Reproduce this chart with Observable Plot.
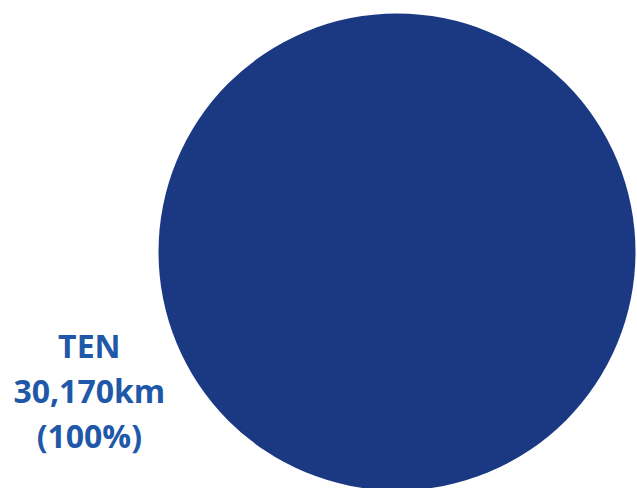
<!DOCTYPE html>
<html>
<head>
<meta charset="utf-8">
<script src="https://cdn.jsdelivr.net/npm/d3@7"></script>
<script src="https://cdn.jsdelivr.net/npm/@observablehq/plot@0.6"></script>
<style>
  html, body { margin: 0; padding: 0; background: #fff; overflow: hidden; }
</style>
</head>
<body>
<div id="chart"></div>
<script>
// Data
const categories = ["TEN"];
const values = [30170];
const units = "km";
const sliceColors = ["#1b3882"];

const total = d3.sum(values);
const slices = categories.map((c, i) => ({
  category: c,
  value: values[i],
  share: values[i] / total,
  label: `${c}\n${d3.format(",")(values[i])}${units}\n(${Math.round(values[i] / total * 100)}%)`
}));

const chart = Plot.plot({
  width: 637,
  height: 488,
  margin: 0,
  x: {domain: [-1, 1], range: [158, 635], axis: null},
  y: {domain: [-1, 1], range: [490, 13], axis: null},
  r: {type: "linear", domain: [0, total], range: [0, 238.5]},
  color: {domain: categories, range: sliceColors},
  marks: [
    Plot.dot(slices, {x: () => 0, y: () => 0, r: "value", fill: "category", stroke: null}),
    Plot.text(slices, {
      x: () => -1.29,
      y: () => -0.572,
      text: "label",
      fill: "#1f58a8",
      fontSize: 32,
      fontWeight: 700,
      fontFamily: "Open Sans",
      lineHeight: 1.42,
      textAnchor: "middle",
      lineAnchor: "middle"
    })
  ]
});
document.getElementById("chart").appendChild(chart);
</script>
</body>
</html>
